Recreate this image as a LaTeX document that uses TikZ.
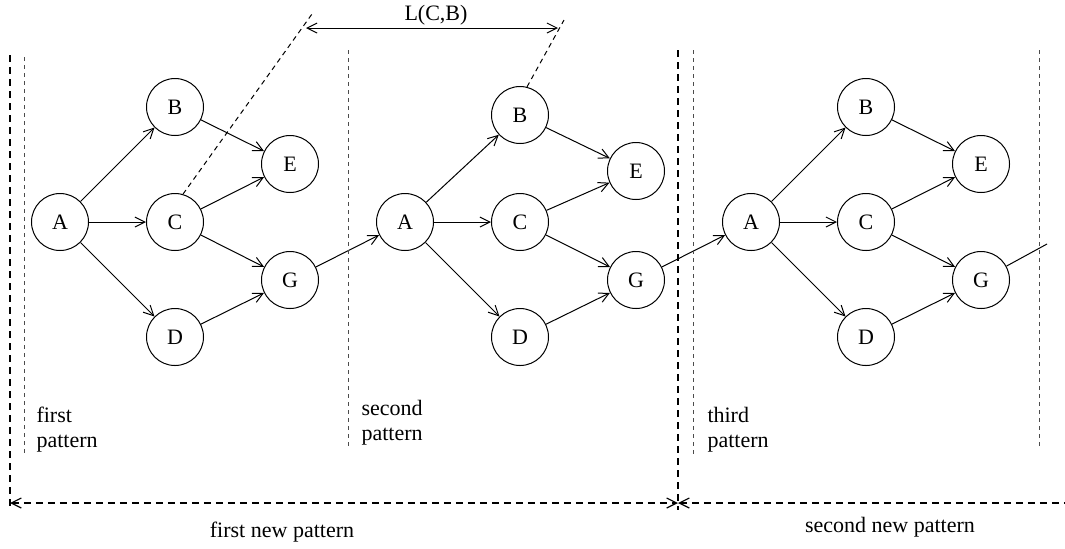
\documentclass[tikz,border=0pt]{standalone}
\usepackage{fontspec}
\setmainfont{Liberation Serif}
\usetikzlibrary{arrows.meta}
\tikzset{state/.style = {draw, circle, minimum size = 28.5pt, inner sep = 0}}
\tikzset{guide/.style = {gray!60!black, line width = 0.4pt, dash pattern = on 2pt off 2pt}}
\tikzset{border/.style = {line width = 0.6pt, dash pattern = on 3.5pt off 2.5pt}}
\tikzset{span/.style = {line width = 0.5pt, dash pattern = on 2.5pt off 2pt}}
\tikzset{lbl/.style = {inner sep = 0, align = left, anchor = west}}

\begin{document}
\begin{tikzpicture}[x=0.5pt, y=-0.5pt, line width=0.5pt,
                    font=\fontsize{11}{12.5}\selectfont,
                    >={Straight Barb[length=5pt, width=5pt]}]
      \useasboundingbox (0,0) rectangle (1065,548);

      % first pattern
      \node [state] (A1) at (60,222) {A};
      \node [state] (B1) at (175,107) {B};
      \node [state] (C1) at (175,222) {C};
      \node [state] (D1) at (175,337) {D};
      \node [state] (E1) at (290,164) {E};
      \node [state] (G1) at (290,280) {G};
      \draw [->] (A1) -- (B1);
      \draw [->] (A1) -- (C1);
      \draw [->] (A1) -- (D1);
      \draw [->] (B1) -- (E1);
      \draw [->] (C1) -- (E1);
      \draw [->] (C1) -- (G1);
      \draw [->] (D1) -- (G1);

      % second pattern
      \begin{scope}[shift={(345,0)}]
        \node [state] (A2) at (60,222) {A};
        \node [state] (B2) at (175,115) {B};
        \node [state] (C2) at (175,222) {C};
        \node [state] (D2) at (175,337) {D};
        \node [state] (E2) at (291,171) {E};
        \node [state] (G2) at (291,280) {G};
      \end{scope}
      \draw [->] (A2) -- (B2);
      \draw [->] (A2) -- (C2);
      \draw [->] (A2) -- (D2);
      \draw [->] (B2) -- (E2);
      \draw [->] (C2) -- (E2);
      \draw [->] (C2) -- (G2);
      \draw [->] (D2) -- (G2);

      % third pattern
      \begin{scope}[shift={(691,0)}]
        \node [state] (A3) at (60,222) {A};
        \node [state] (B3) at (175,107) {B};
        \node [state] (C3) at (175,222) {C};
        \node [state] (D3) at (175,337) {D};
        \node [state] (E3) at (290,164) {E};
        \node [state] (G3) at (290,280) {G};
        \coordinate (out3) at (356,244);
      \end{scope}
      \draw [->] (A3) -- (B3);
      \draw [->] (A3) -- (C3);
      \draw [->] (A3) -- (D3);
      \draw [->] (B3) -- (E3);
      \draw [->] (C3) -- (E3);
      \draw [->] (C3) -- (G3);
      \draw [->] (D3) -- (G3);

      % links between patterns
      \draw [->] (G1) -- (A2);
      \draw [->] (G2) -- (A3);
      \draw (G3) -- (out3);

      % distance L(C,B)
      \coordinate (cb1) at (312,14);
      \coordinate (cb2) at (564,20);
      \draw [span] (C1.74) -- (cb1);
      \draw [span] (B2.76) -- (cb2);
      \coordinate (l1) at (306,28);
      \coordinate (l2) at (558,28);
      \draw [<->] (l1) -- (l2);
      \node (lcb) at (436,15) {L(C,B)};

      % pattern borders
      \draw [guide] (24,57) -- (24,453);
      \draw [guide] (348,50) -- (348,447);
      \draw [guide] (693,50) -- (693,455);
      \draw [guide] (1039,50) -- (1039,447);
      \draw [border] (10,55) -- (10,510);
      \draw [border] (678,50) -- (678,510);

      \node [lbl] (p1) at (36,430) {first\\pattern};
      \node [lbl] (p2) at (361,423) {second\\pattern};
      \node [lbl] (p3) at (707,430) {third\\pattern};

      % new patterns
      \coordinate (n0) at (10,503);
      \coordinate (n1) at (678,503);
      \coordinate (n2) at (1065,503);
      \draw [border, <->] (n0) -- (n1);
      \draw [border, <-] (n1) -- (n2);
      \node (np1) at (282,532) {first new pattern};
      \node (np2) at (890,527) {second new pattern};
    \end{tikzpicture}
\end{document}
